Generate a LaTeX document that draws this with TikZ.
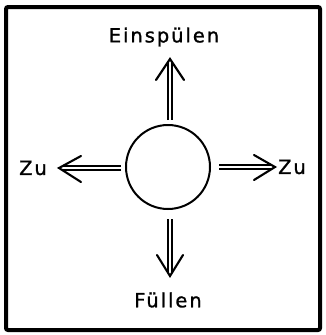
\documentclass[tikz,border=0pt]{standalone}
\usepackage{fontspec}
\usetikzlibrary{calc}
\setmainfont{DejaVu Sans}[LetterSpace=10,FakeBold=1.2]
\begin{document}
\begin{tikzpicture}[x=1pt,y=-1pt,
  frame/.style={line width=4pt,rounded corners=2pt},
  valve/.style={circle,draw,line width=2pt,minimum size=84pt,inner sep=0pt},
  lbl/.style={font=\fontsize{19.5}{22}\selectfont,inner sep=0pt},
  shaft/.style={double,double distance=2.4pt,line width=1.9pt},
  head/.style={line width=2.1pt,line cap=round,line join=miter}]
\useasboundingbox (0,0) rectangle (325,335);
\draw[frame] (6,7) rectangle (320,330);
\node[valve] (v) at (168,167) {};
\node[lbl] (ein) at (164,37) {Einspülen};
\node[lbl] (fue) at (168,300) {Füllen};
\node[lbl] (zl) at (33,168) {Zu};
\node[lbl] (zr) at (292,167) {Zu};
\coordinate (tu) at (170,59);
\coordinate (td) at (170,276);
\coordinate (tl) at (59,168);
\coordinate (tr) at (275,167);
% up
\draw[shaft] ($(v.north)+(2,-4)$) -- ($(tu)+(0,4)$);
\draw[head] ($(tu)+(-14,21)$) -- (tu) -- ($(tu)+(14,21)$);
% down
\draw[shaft] ($(v.south)+(2,9)$) -- ($(td)+(0,-4)$);
\draw[head] ($(td)+(-13,-21)$) -- (td) -- ($(td)+(13,-21)$);
% left
\draw[shaft] ($(v.west)+(-4,1)$) -- ($(tl)+(4,0)$);
\draw[head] ($(tl)+(22,-12)$) -- (tl) -- ($(tl)+(22,14)$);
% right
\draw[shaft] ($(v.east)+(8,0)$) -- ($(tr)+(-4,0)$);
\draw[head] ($(tr)+(-21,-12)$) -- (tr) -- ($(tr)+(-21,13)$);
\end{tikzpicture}
\end{document}
